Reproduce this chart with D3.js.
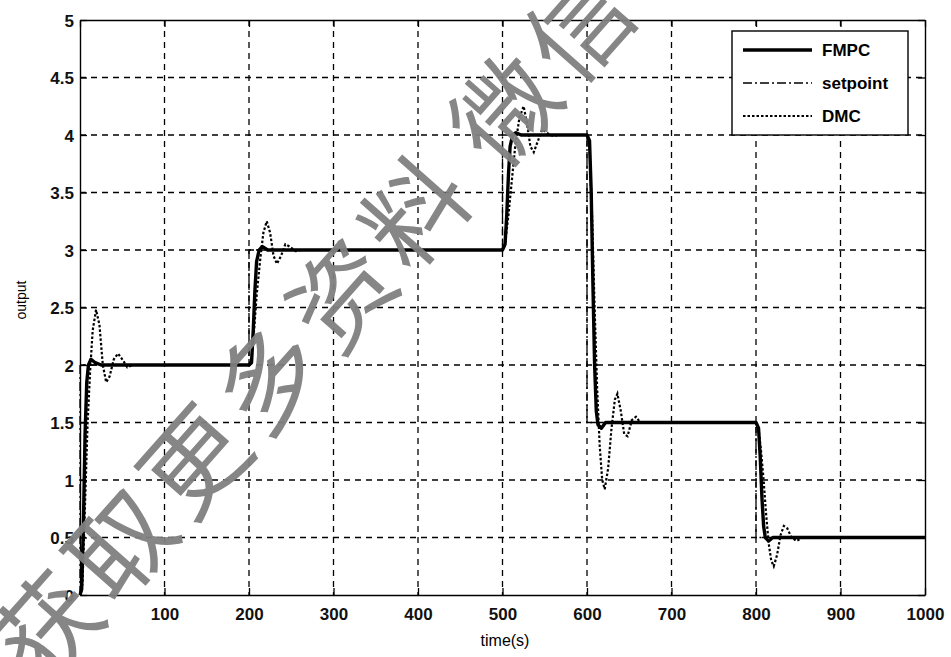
<!DOCTYPE html>
<html>
<head>
<meta charset="utf-8">
<script src="https://d3js.org/d3.v7.min.js"></script>
<style>
  body { margin: 0; background: #fff; }
  text { font-family: "Liberation Sans", Arial, sans-serif; }
</style>
</head>
<body>
<svg id="chart" width="951" height="657"></svg>
<script>
// ---- data ----
var xTicks = [0, 100, 200, 300, 400, 500, 600, 700, 800, 900, 1000];
var yTicks = [0, 0.5, 1, 1.5, 2, 2.5, 3, 3.5, 4, 4.5, 5];
var xTickLabels = ["", "100", "200", "300", "400", "500", "600", "700", "800", "900", "1000"];
var yTickLabels = ["0", "0.5", "1", "1.5", "2", "2.5", "3", "3.5", "4", "4.5", "5"];

var setpointT = [0, 0, 200, 200, 500, 500, 600, 600, 800, 800, 1000];
var setpointY = [0, 2, 2, 3, 3, 4, 4, 1.5, 1.5, 0.5, 0.5];

var fmpcT = [0, 2, 4, 6, 8, 10, 13, 18, 25, 200, 203, 205, 207, 209, 212, 216, 222,
  500, 503, 505, 507, 509, 512, 516, 522, 600, 603, 605, 607, 609, 611, 613, 617, 622,
  800, 803, 805, 807, 809, 811, 815, 820, 1000];
var fmpcY = [0, 0.05, 0.6, 1.4, 1.85, 2.0, 2.05, 2.02, 2.0, 2.0, 2.02, 2.3, 2.65, 2.9, 3.0, 3.03, 3.0,
  3.0, 3.05, 3.3, 3.65, 3.9, 4.0, 4.02, 4.0, 4.0, 3.95, 3.5, 2.7, 2.0, 1.6, 1.48, 1.45, 1.5,
  1.5, 1.45, 1.2, 0.85, 0.6, 0.5, 0.47, 0.5, 0.5];

var dmcT = [0, 3, 6, 9, 12, 15, 19, 23, 27, 31, 35, 40, 45, 50, 56, 62,
  200, 203, 206, 209, 213, 217, 221, 225, 229, 233, 238, 243, 248, 255, 262,
  500, 503, 507, 511, 515, 520, 525, 529, 533, 537, 542, 547, 552, 560, 566,
  600, 603, 606, 609, 612, 615, 618, 621, 625, 629, 633, 636, 640, 644, 648, 653, 658, 663, 670,
  800, 803, 806, 809, 812, 815, 818, 821, 825, 829, 833, 837, 842, 848, 855, 1000];
var dmcY = [0, 0.1, 0.8, 1.5, 1.95, 2.3, 2.48, 2.35, 2.0, 1.85, 1.9, 2.05, 2.1, 2.05, 1.98, 2.0,
  2.0, 2.05, 2.3, 2.6, 2.9, 3.15, 3.25, 3.15, 2.95, 2.88, 2.95, 3.05, 3.03, 2.99, 3.0,
  3.0, 3.05, 3.3, 3.6, 3.9, 4.15, 4.25, 4.1, 3.9, 3.85, 3.95, 4.05, 4.02, 3.99, 4.0,
  4.0, 3.9, 3.3, 2.5, 1.8, 1.3, 1.0, 0.92, 1.1, 1.45, 1.7, 1.75, 1.6, 1.4, 1.38, 1.52, 1.55, 1.5, 1.5,
  1.5, 1.45, 1.25, 1.0, 0.7, 0.45, 0.3, 0.25, 0.35, 0.52, 0.6, 0.58, 0.5, 0.47, 0.5, 0.5];

var seriesNames = ["FMPC", "setpoint", "DMC"];
var watermarkA = "获取更多资料";
var watermarkB = "微信公众号";

// ---- layout ----
var svg = d3.select("#chart"),
  margin = { top: 20, right: 26, bottom: 62, left: 80 },
  width = +svg.attr("width") - margin.left - margin.right,
  height = +svg.attr("height") - margin.top - margin.bottom,
  g = svg.append("g")
    .attr("transform", "translate(" + margin.left + "," + margin.top + ")");

var x = d3.scaleLinear().domain([0, 1000]).range([0, width]);
var y = d3.scaleLinear().domain([0, 5]).range([height, 0]);

function zip(ts, vs) {
  return ts.map(function(t, i) { return [t, vs[i]]; });
}

// grid
g.append("g")
  .selectAll("line")
  .data(xTicks.slice(1, -1))
  .enter()
  .append("line")
  .attr("x1", function(d) { return x(d); })
  .attr("x2", function(d) { return x(d); })
  .attr("y1", 0)
  .attr("y2", height)
  .attr("stroke", "#000")
  .attr("stroke-width", 1.3)
  .attr("stroke-dasharray", "6,5");

g.append("g")
  .selectAll("line")
  .data(yTicks.slice(1, -1))
  .enter()
  .append("line")
  .attr("x1", 0)
  .attr("x2", width)
  .attr("y1", function(d) { return y(d); })
  .attr("y2", function(d) { return y(d); })
  .attr("stroke", "#000")
  .attr("stroke-width", 1.3)
  .attr("stroke-dasharray", "6,5");

// axes (MATLAB box with inward ticks)
var xAxis = g.append("g")
  .attr("transform", "translate(0," + height + ")")
  .call(d3.axisBottom(x).tickValues(xTicks).tickSizeInner(-7).tickSizeOuter(0)
    .tickPadding(13).tickFormat(function(d, i) { return xTickLabels[i]; }));
var yAxis = g.append("g")
  .call(d3.axisLeft(y).tickValues(yTicks).tickSizeInner(-7).tickSizeOuter(0)
    .tickPadding(6).tickFormat(function(d, i) { return yTickLabels[i]; }));
g.append("g")
  .call(d3.axisTop(x).tickValues(xTicks).tickSizeInner(-7).tickSizeOuter(0).tickFormat(""));
g.append("g")
  .attr("transform", "translate(" + width + ",0)")
  .call(d3.axisRight(y).tickValues(yTicks).tickSizeInner(-7).tickSizeOuter(0).tickFormat(""));

g.selectAll(".domain").attr("stroke", "#000").attr("stroke-width", 1.4);
g.selectAll(".tick line").attr("stroke", "#000").attr("stroke-width", 1.3);
g.selectAll(".tick text")
  .style("font-family", "'Liberation Sans', Arial, sans-serif")
  .style("font-size", "17px")
  .style("font-weight", "bold")
  .style("fill", "#111");
yAxis.selectAll(".tick text").attr("dy", "0.36em");

// series
var line = d3.line()
  .x(function(d) { return x(d[0]); })
  .y(function(d) { return y(d[1]); });

g.append("path")
  .datum(zip(setpointT, setpointY))
  .attr("fill", "none")
  .attr("stroke", "#000")
  .attr("stroke-width", 1.3)
  .attr("stroke-dasharray", "9,3,2,3")
  .attr("d", line);

g.append("path")
  .datum(zip(dmcT, dmcY))
  .attr("fill", "none")
  .attr("stroke", "#000")
  .attr("stroke-width", 2.2)
  .attr("stroke-dasharray", "2.5,2")
  .attr("d", line);

g.append("path")
  .datum(zip(fmpcT, fmpcY))
  .attr("fill", "none")
  .attr("stroke", "#000")
  .attr("stroke-width", 3.4)
  .attr("stroke-linejoin", "round")
  .attr("d", line);

// axis titles
svg.append("text")
  .attr("x", 505)
  .attr("y", 646)
  .attr("text-anchor", "middle")
  .style("font-size", "16px")
  .style("fill", "#000")
  .text("time(s)");

svg.append("text")
  .attr("transform", "translate(26,300) rotate(-90)")
  .attr("text-anchor", "middle")
  .style("font-size", "14px")
  .style("fill", "#000")
  .text("output");

// legend
var legend = svg.append("g").attr("transform", "translate(732,31)");
legend.append("rect")
  .attr("width", 176)
  .attr("height", 104)
  .attr("fill", "#fff")
  .attr("stroke", "#000")
  .attr("stroke-width", 1.4);

var dashes = [null, "9,3,2,3", "2.5,2"];
var widths = [3.4, 1.3, 2.2];
var item = legend.selectAll(".item")
  .data(seriesNames)
  .enter()
  .append("g")
  .attr("transform", function(d, i) { return "translate(0," + (19 + i * 33) + ")"; });

item.append("line")
  .attr("x1", 11)
  .attr("x2", 80)
  .attr("stroke", "#000")
  .attr("stroke-width", function(d, i) { return widths[i]; })
  .attr("stroke-dasharray", function(d, i) { return dashes[i]; });

item.append("text")
  .attr("x", 90)
  .attr("dy", "0.36em")
  .style("font-size", "17px")
  .style("font-weight", "bold")
  .style("fill", "#000")
  .text(function(d) { return d; });

// watermark overlay
var wm = svg.append("text")
  .attr("transform", "translate(42,691) rotate(-48.5)")
  .style("font-family", "'Noto Sans CJK SC', sans-serif")
  .style("font-size", "102px")
  .style("font-weight", "normal")
  .style("letter-spacing", "9px")
  .style("fill", "#808080")
  .style("fill-opacity", 0.95);
wm.append("tspan").text(watermarkA);
wm.append("tspan").attr("dx", 25).text(watermarkB);
</script>
</body>
</html>
